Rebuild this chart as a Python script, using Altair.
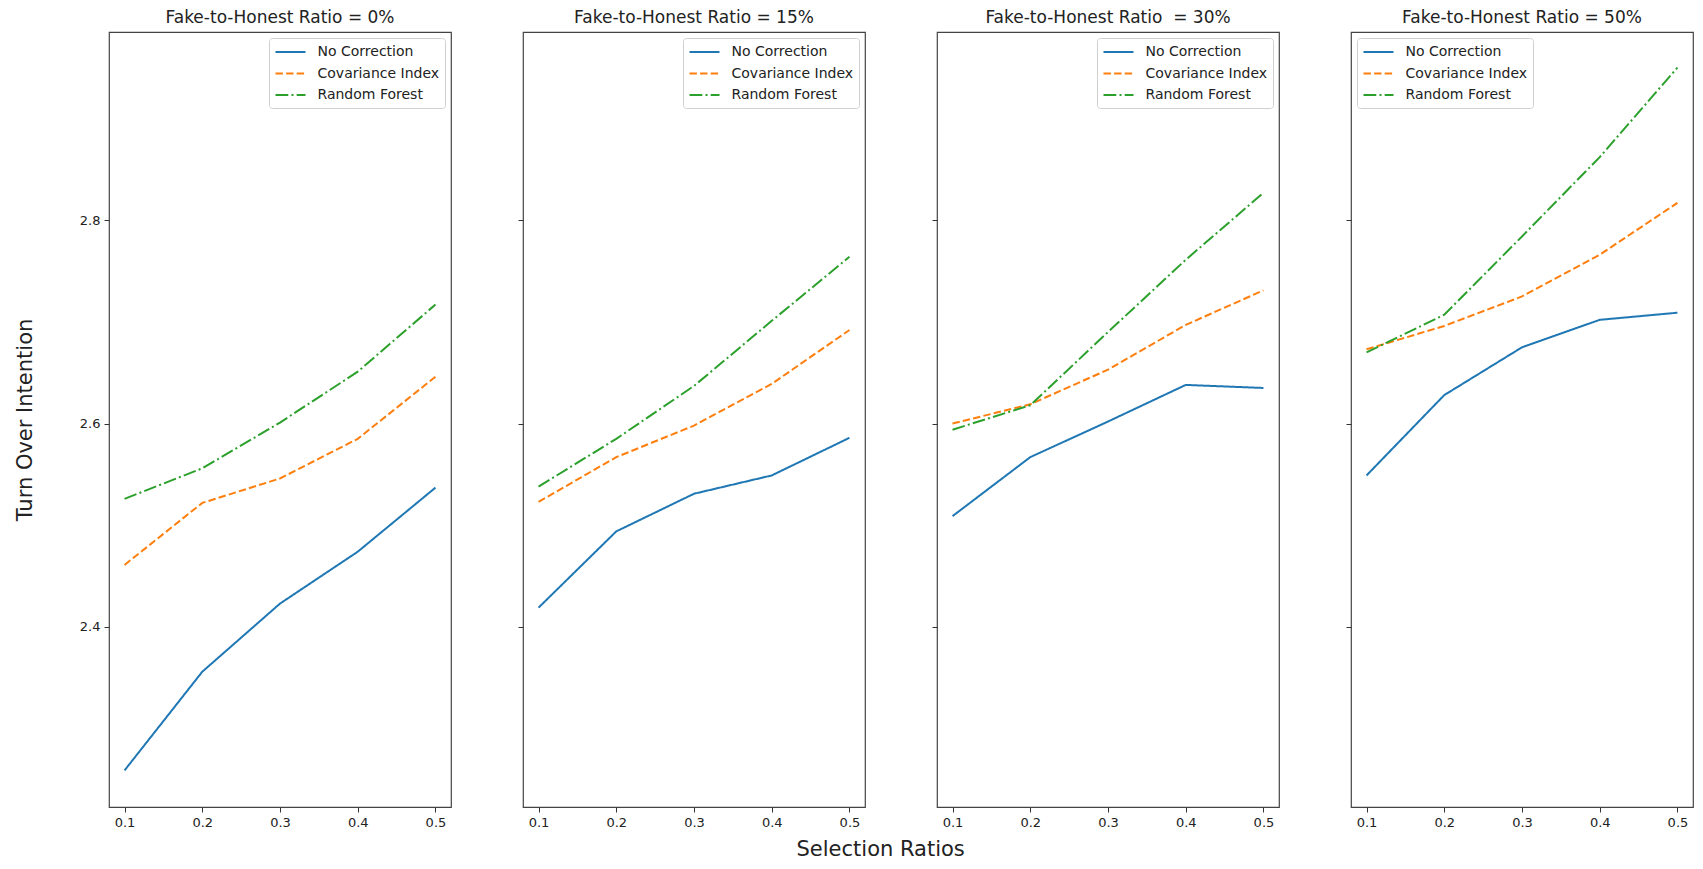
import altair as alt
import pandas as pd

# ---------------- data ----------------
selection_ratios = [0.1, 0.2, 0.3, 0.4, 0.5]
methods = ["No Correction", "Covariance Index", "Random Forest"]
panel_titles = [
    "Fake-to-Honest Ratio = 0%",
    "Fake-to-Honest Ratio = 15%",
    "Fake-to-Honest Ratio\u00a0 = 30%",
    "Fake-to-Honest Ratio = 50%",
]

# Fake-to-Honest ratio 0%
no_correction_0 = [2.259, 2.356, 2.423, 2.474, 2.537]
covariance_0 = [2.461, 2.522, 2.546, 2.585, 2.646]
forest_0 = [2.526, 2.556, 2.601, 2.651, 2.717]
# 15%
no_correction_15 = [2.419, 2.494, 2.531, 2.549, 2.586]
covariance_15 = [2.523, 2.567, 2.598, 2.639, 2.692]
forest_15 = [2.538, 2.585, 2.637, 2.701, 2.764]
# 30%
no_correction_30 = [2.509, 2.567, 2.602, 2.638, 2.635]
covariance_30 = [2.600, 2.619, 2.653, 2.697, 2.731]
forest_30 = [2.594, 2.618, 2.690, 2.761, 2.827]
# 50%
no_correction_50 = [2.549, 2.628, 2.675, 2.702, 2.709]
covariance_50 = [2.673, 2.696, 2.725, 2.766, 2.817]
forest_50 = [2.670, 2.707, 2.784, 2.862, 2.950]

series = [
    (no_correction_0, covariance_0, forest_0),
    (no_correction_15, covariance_15, forest_15),
    (no_correction_30, covariance_30, forest_30),
    (no_correction_50, covariance_50, forest_50),
]

colors = ["#1f77b4", "#ff7f0e", "#2ca02c"]
dashes = [[1, 0], [7.4, 3.2], [12.8, 3.2, 2, 3.2]]

FONT = "DejaVu Sans"
PANEL_W = 342
PANEL_H = 775


def make_panel(i):
    rows = []
    for m, vals in zip(methods, series[i]):
        for x, v in zip(selection_ratios, vals):
            rows.append({"ratio": x, "value": v, "method": m})
    df = pd.DataFrame(rows)

    legend = alt.Legend(
        orient="top-left" if i == 3 else "top-right",
        title=None,
        offset=6,
    )
    if i == 0:
        y_axis = alt.Axis(values=[2.4, 2.6, 2.8], format=".1f",
                          title="Turn Over Intention", titlePadding=44)
    else:
        y_axis = alt.Axis(values=[2.4, 2.6, 2.8], labels=False, title=None)

    return (
        alt.Chart(df)
        .mark_line(strokeWidth=2)
        .encode(
            x=alt.X("ratio:Q",
                    scale=alt.Scale(domain=[0.08, 0.52], nice=False, zero=False),
                    axis=alt.Axis(values=selection_ratios, format=".1f", title=None)),
            y=alt.Y("value:Q",
                    scale=alt.Scale(domain=[2.223, 2.985], nice=False, zero=False),
                    axis=y_axis),
            color=alt.Color("method:N", scale=alt.Scale(domain=methods, range=colors),
                            legend=legend),
            strokeDash=alt.StrokeDash("method:N", scale=alt.Scale(domain=methods, range=dashes),
                                      legend=legend),
            order=alt.Order("ratio:Q"),
        )
        .properties(
            width=PANEL_W,
            height=PANEL_H,
            title=alt.TitleParams(panel_titles[i], fontSize=17, font=FONT,
                                  fontWeight="normal", color="#222", offset=5),
        )
    )


panels = [make_panel(i) for i in range(4)]

chart = (
    alt.hconcat(*panels, spacing=72, bounds="flush")
    .resolve_scale(color="independent", strokeDash="independent")
    .resolve_legend(color="independent", strokeDash="independent")
    .properties(
        title=alt.TitleParams("Selection Ratios", orient="bottom", anchor="middle",
                              fontSize=21, font=FONT, fontWeight="normal",
                              color="#222", offset=9, dx=27),
        padding={"left": 5, "top": 0, "right": 0, "bottom": 0},
        background="white",
    )
    .configure_view(stroke="#444", strokeWidth=1.2)
    .configure_axis(
        domain=False, grid=False, tickColor="#333", tickSize=5, tickWidth=1,
        labelFont=FONT, labelFontSize=13, labelColor="#222", labelPadding=4,
        titleFont=FONT, titleFontSize=21, titleFontWeight="normal", titleColor="#222",
    )
    .configure_legend(
        labelFont=FONT, labelFontSize=14, labelColor="#222",
        symbolType="M-1,0H3", symbolSize=225, symbolStrokeWidth=2,
        fillColor="white", strokeColor="#d0d0d0", cornerRadius=3,
        padding=5.5, rowPadding=5.5, labelOffset=26,
    )
)

chart.save("out.html", embed_options={"renderer": "svg", "actions": False})
